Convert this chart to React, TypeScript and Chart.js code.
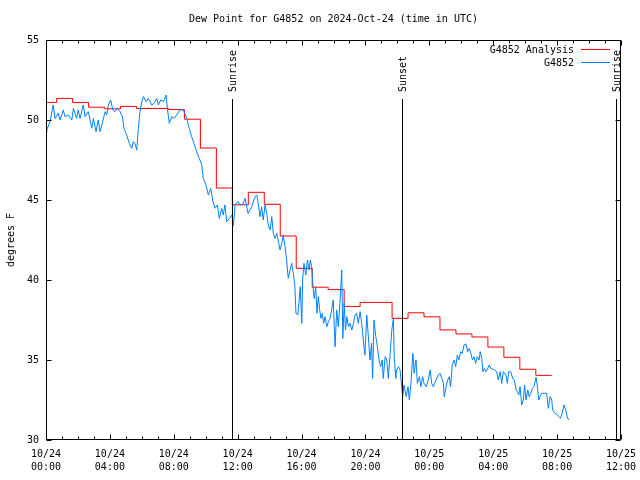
import React, { useEffect, useRef } from 'react';
import { Chart, registerables } from 'chart.js';

Chart.register(...registerables);

const TITLE = 'Dew Point for G4852 on 2024-Oct-24 (time in UTC)';
const Y_TITLE = 'degrees F';
const SERIES_NAMES = ['G4852 Analysis', 'G4852'];
const SERIES_COLORS = ['#ff0000', '#0080ff'];

// x axis ticks (minutes since 2024-10-24 00:00 UTC)
const X_TICK_DATES = ['10/24', '10/24', '10/24', '10/24', '10/24', '10/24', '10/25', '10/25', '10/25', '10/25'];
const X_TICK_TIMES = ['00:00', '04:00', '08:00', '12:00', '16:00', '20:00', '00:00', '04:00', '08:00', '12:00'];
const Y_MIN = 30;
const Y_MAX = 55;

// Sun events
const SUN_MIN = [700, 1339, 2140];
const SUN_LABELS = ['Sunrise', 'Sunset', 'Sunrise'];

// Analysis (stepped) - value holds from time i to time i+1
const ANA_MIN = [0, 40, 100, 160, 220, 280, 340, 400, 460, 520, 580, 640, 700, 760, 820, 880, 940, 1000, 1060, 1120, 1180, 1240, 1300, 1360, 1420, 1480, 1540, 1600, 1660, 1720, 1780, 1840, 1900];
const ANA_VAL = [51.1, 51.35, 51.1, 50.8, 50.7, 50.85, 50.72, 50.72, 50.65, 50.05, 48.25, 45.75, 44.7, 45.48, 44.73, 42.75, 40.73, 39.55, 39.4, 38.35, 38.6, 38.6, 37.6, 37.95, 37.7, 36.88, 36.63, 36.44, 35.81, 35.17, 34.42, 34.04, 34.04];

// Observations
const OBS_MIN = [0, 3, 15, 27, 34, 46, 53, 65, 71, 84, 97, 103, 115, 121, 128, 140, 147, 159, 172, 178, 188, 196, 203, 213, 222, 228, 234, 243, 251, 259, 268, 278, 287, 293, 303, 313, 322, 328, 334, 341, 347, 353, 360, 366, 376, 384, 397, 406, 416, 422, 431, 441, 451, 456, 463, 472, 481, 491, 503, 516, 529, 538, 547, 556, 566, 576, 585, 591, 601, 610, 619, 626, 635, 644, 651, 660, 666, 672, 679, 689, 698,
  704, 710, 721, 729, 740, 748, 759, 773, 785, 792, 798, 804, 810, 816, 823, 829, 835, 842, 848, 854, 860, 867, 873, 879, 886, 891, 898, 904, 910, 917, 923, 929, 935, 939, 946, 951, 955, 961, 964, 969, 976, 982, 988, 993, 998, 1004, 1008, 1013, 1018, 1023, 1028, 1033, 1038, 1043, 1048, 1055, 1061,
  1067, 1073, 1079, 1086, 1092, 1098, 1104, 1111, 1115, 1120, 1125, 1130, 1136, 1142, 1149, 1155, 1161, 1167, 1173, 1180, 1186, 1192, 1198, 1205, 1211, 1217, 1223, 1227, 1232, 1239, 1245, 1251, 1257, 1263, 1267, 1274, 1280, 1286, 1292, 1299, 1305, 1308, 1314, 1317, 1324,
  1330, 1340, 1345, 1353, 1360, 1365, 1371, 1378, 1383, 1390, 1395, 1403, 1408, 1415, 1420, 1428, 1436, 1443, 1449, 1455, 1465, 1474, 1480, 1487, 1493, 1496, 1503, 1509, 1515, 1520, 1526, 1533, 1539, 1545, 1551, 1558, 1564, 1570, 1578, 1584, 1590, 1596, 1602, 1608, 1614, 1620, 1627, 1631, 1637, 1641, 1647, 1653, 1658, 1665, 1671, 1678, 1684, 1693, 1699, 1706, 1712, 1718, 1728, 1733, 1738, 1746, 1753, 1759, 1766, 1771, 1776, 1781, 1787, 1793, 1798, 1803, 1810, 1815, 1821, 1827, 1833, 1841, 1846, 1851, 1856, 1862, 1871, 1881, 1887, 1894, 1900, 1903, 1912, 1921, 1928, 1933, 1939, 1946, 1952, 1958, 1963];
const OBS_VAL = [49.2, 49.38, 49.9, 50.94, 50.1, 50.42, 50.0, 50.63, 50.21, 50.31, 50.0, 50.73, 50.1, 50.63, 50.1, 50.94, 50.21, 50.52, 49.48, 50.1, 49.27, 50.0, 49.27, 49.9, 50.52, 50.31, 50.94, 51.25, 50.63, 50.52, 50.73, 50.52, 50.21, 49.48, 49.06, 48.54, 48.23, 48.65, 48.54, 48.13, 49.48, 50.52, 51.15, 51.46, 51.15, 51.35, 50.94, 51.04, 51.35, 50.94, 51.25, 51.15, 51.56, 50.73, 49.79, 50.21, 50.1, 50.31, 50.63, 50.63, 50.1, 49.48, 48.96, 48.54, 48.02, 47.6, 47.19, 46.35, 45.94, 45.31, 45.73, 45.0, 44.48, 44.69, 43.85, 44.48, 44.06, 44.69, 43.65, 43.85, 44.06,
  43.4, 44.69, 44.9, 44.69, 44.75, 45.1, 44.17, 44.58, 45.21, 45.31, 44.69, 43.96, 44.58, 43.75, 44.69, 44.17, 43.44, 43.13, 43.96, 42.92, 42.6, 42.92, 42.4, 41.88, 42.29, 42.81, 42.08, 41.25, 40.1, 40.63, 41.04, 40.42, 39.58, 37.92, 37.81, 38.75, 39.58, 37.29, 40.0, 41.04, 40.31, 41.25, 40.63, 41.25, 40.83, 39.38, 38.85, 39.58, 37.92, 38.96, 38.13, 37.6, 37.92, 37.29, 37.71, 37.08, 37.4,
  37.6, 38.13, 38.75, 35.83, 38.13, 37.08, 38.54, 40.63, 36.35, 38.54, 36.88, 37.71, 37.08, 37.29, 36.88, 37.29, 37.81, 37.92, 37.29, 38.02, 37.29, 36.25, 35.31, 37.81, 36.46, 35.0, 36.04, 33.85, 37.5, 36.46, 35.83, 35.0, 34.58, 35.0, 33.85, 35.21, 35.0, 33.85, 35.21, 36.88, 37.6, 35.21, 33.85, 34.38, 34.58,
  34.38, 32.71, 33.44, 32.71, 33.33, 32.5, 33.54, 35.42, 34.17, 35.0, 33.54, 33.96, 33.33, 33.96, 33.54, 33.33, 33.75, 34.38, 33.54, 33.33, 33.75, 34.06, 34.17, 33.85, 33.54, 32.71, 33.33, 33.75, 33.96, 33.33, 34.69, 35.0, 34.58, 35.31, 35.0, 35.52, 35.42, 35.94, 36.0, 35.52, 35.73, 35.42, 35.0, 35.21, 34.79, 35.21, 35.0, 35.52, 35.1, 34.27, 34.48, 34.27, 34.42, 34.69, 34.48, 34.42, 34.38, 34.27, 33.75, 34.27, 33.54, 34.27, 34.06, 33.54, 34.27, 34.27, 33.85, 33.75, 33.13, 33.02, 32.81, 33.33, 32.19, 32.5, 33.44, 32.5, 33.13, 32.71, 32.92, 33.23, 33.33, 33.92, 33.33, 32.5, 32.71, 32.92, 32.92, 32.92, 31.98, 32.71, 32.5, 31.88, 31.67, 31.56, 31.46, 31.35, 31.67, 32.19, 31.88, 31.46, 31.25];

const FONT = "'DejaVu Sans Mono', monospace";

const overlay = {
  id: 'overlay',
  afterDatasetsDraw(chart: any) {
    const { ctx, chartArea: a, scales } = chart;
    const xs = scales.x;
    const ys = scales.y;
    ctx.save();
    ctx.strokeStyle = '#000';
    ctx.fillStyle = '#000';
    ctx.lineWidth = 1;
    ctx.font = `10px ${FONT}`;

    // sun lines + labels
    SUN_MIN.forEach((m, i) => {
      const px = Math.round(xs.getPixelForValue(m)) + 0.5;
      ctx.beginPath();
      ctx.moveTo(px, 99);
      ctx.lineTo(px, a.bottom);
      ctx.stroke();
      ctx.save();
      ctx.translate(px + 1, 92);
      ctx.rotate(-Math.PI / 2);
      ctx.textAlign = 'left';
      ctx.textBaseline = 'middle';
      ctx.fillText(SUN_LABELS[i], 0, 0);
      ctx.restore();
    });

    // frame
    const L = Math.round(a.left) + 0.5;
    const R = Math.round(a.right) - 0.5;
    const T = Math.round(a.top) + 0.5;
    const B = Math.round(a.bottom) - 0.5;
    ctx.beginPath();
    ctx.rect(L, T, R - L, B - T);
    ctx.stroke();

    // x ticks (inward, mirrored)
    ctx.beginPath();
    for (let m = xs.min; m <= xs.max; m += 60) {
      const px = Math.round(xs.getPixelForValue(m)) + 0.5;
      const len = m % 240 === 0 ? 5 : 3;
      ctx.moveTo(px, B);
      ctx.lineTo(px, B - len);
      ctx.moveTo(px, T);
      ctx.lineTo(px, T + len);
    }
    // y ticks
    for (let v = Y_MIN; v <= Y_MAX; v += 5) {
      const py = Math.round(ys.getPixelForValue(v)) + 0.5;
      ctx.moveTo(L, py);
      ctx.lineTo(L + 5, py);
      ctx.moveTo(R, py);
      ctx.lineTo(R - 5, py);
    }
    ctx.stroke();

    // title
    ctx.textAlign = 'center';
    ctx.textBaseline = 'middle';
    ctx.fillText(TITLE, (a.left + a.right) / 2, 19);

    // y title
    ctx.save();
    ctx.translate(11, (a.top + a.bottom) / 2);
    ctx.rotate(-Math.PI / 2);
    ctx.textAlign = 'center';
    ctx.textBaseline = 'middle';
    ctx.fillText(Y_TITLE, 0, 0);
    ctx.restore();

    // legend
    SERIES_NAMES.forEach((name, i) => {
      const ly = 50 + i * 13;
      ctx.textAlign = 'right';
      ctx.textBaseline = 'middle';
      ctx.fillStyle = '#000';
      ctx.fillText(name, 574, ly);
      ctx.strokeStyle = SERIES_COLORS[i];
      ctx.beginPath();
      ctx.moveTo(581, ly - 0.5);
      ctx.lineTo(610, ly - 0.5);
      ctx.stroke();
    });
    ctx.restore();
  },
};

export default function App() {
  const ref = useRef<HTMLCanvasElement | null>(null);
  useEffect(() => {
    if (!ref.current) return;
    const obs = OBS_MIN.map((m, i) => ({ x: m, y: OBS_VAL[i] }));
    const ana = ANA_MIN.map((m, i) => ({ x: m, y: ANA_VAL[i] }));
    const tickFont = { family: FONT, size: 10, lineHeight: 1.3 };
    const chart = new Chart(ref.current, {
      type: 'line',
      data: {
        datasets: [
          {
            label: SERIES_NAMES[1],
            data: obs,
            borderColor: SERIES_COLORS[1],
            borderWidth: 1,
            pointRadius: 0,
            tension: 0,
            fill: false,
          },
          {
            label: SERIES_NAMES[0],
            data: ana,
            borderColor: SERIES_COLORS[0],
            borderWidth: 1,
            pointRadius: 0,
            stepped: true,
            fill: false,
          },
        ],
      },
      options: {
        animation: false,
        responsive: false,
        devicePixelRatio: 1,
        layout: { padding: { top: 40, right: 19, left: 0, bottom: 0 } },
        plugins: { legend: { display: false }, title: { display: false }, tooltip: { enabled: false } },
        scales: {
          x: {
            type: 'linear',
            min: 0,
            max: 2160,
            grid: { display: false, drawTicks: false },
            border: { display: false },
            ticks: {
              stepSize: 240,
              autoSkip: false,
              maxRotation: 0,
              minRotation: 0,
              padding: 8,
              color: '#000',
              font: tickFont,
              callback: (v: any) => {
                const i = Math.round(Number(v) / 240);
                return [X_TICK_DATES[i], X_TICK_TIMES[i]];
              },
            },
            afterFit: (s: any) => {
              s.height = 40;
              s.paddingLeft = 0;
              s.paddingRight = 0;
            },
          },
          y: {
            min: Y_MIN,
            max: Y_MAX,
            grid: { display: false, drawTicks: false },
            border: { display: false },
            ticks: { stepSize: 5, padding: 7, color: '#000', font: tickFont },
            afterFit: (s: any) => {
              s.width = 46;
              s.paddingTop = 0;
              s.paddingBottom = 0;
            },
          },
        },
      },
      plugins: [overlay],
    });
    return () => chart.destroy();
  }, []);
  return (
    <div style={{ position: 'absolute', left: 0, top: 0, width: 640, height: 480, background: '#fff' }}>
      <canvas ref={ref} width={640} height={480} style={{ display: 'block' }} />
    </div>
  );
}
